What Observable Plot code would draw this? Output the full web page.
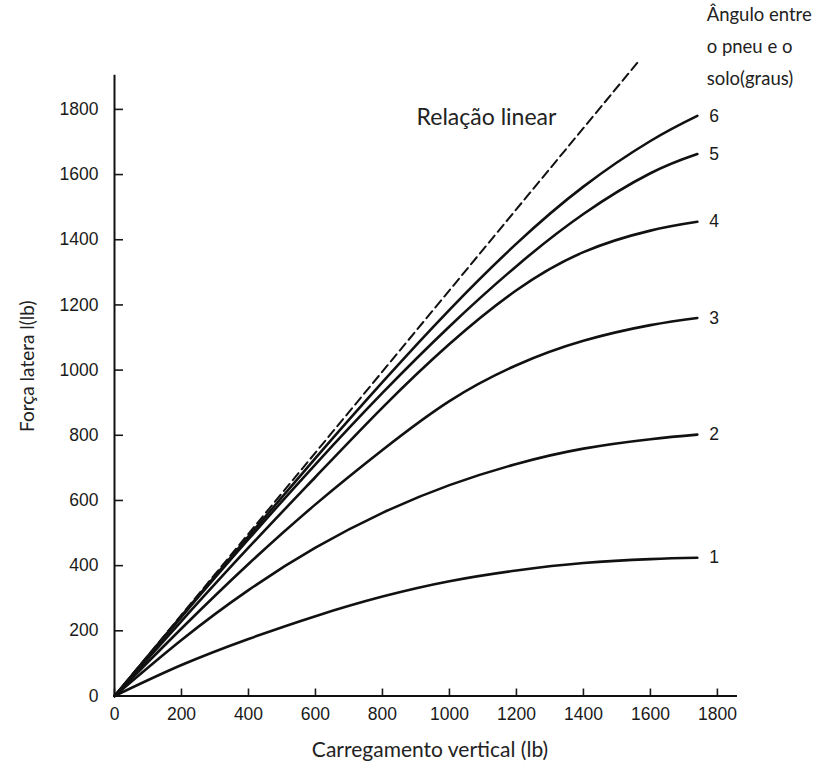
<!DOCTYPE html>
<html>
<head>
<meta charset="utf-8">
<script src="https://cdn.jsdelivr.net/npm/d3@7"></script>
<script src="https://cdn.jsdelivr.net/npm/@observablehq/plot@0.6"></script>
<style>
  body { margin: 0; background: #fff; }
  #chart svg { display: block; }
</style>
</head>
<body>
<div id="chart"></div>
<script>
// Vertical load (lb) sample points shared by all curves
const loads = [0, 200, 400, 600, 800, 1000, 1200, 1400, 1600, 1740];
// Lateral force (lb) for each slip angle (degrees)
const angle1 = [0, 95, 175, 245, 305, 352, 385, 408, 420, 424];
const angle2 = [0, 172, 325, 455, 562, 647, 712, 759, 788, 802];
const angle3 = [0, 207, 405, 588, 755, 905, 1015, 1090, 1138, 1160];
const angle4 = [0, 230, 455, 672, 885, 1080, 1245, 1362, 1428, 1455];
const angle5 = [0, 243, 481, 711, 930, 1134, 1319, 1479, 1604, 1663];
const angle6 = [0, 246, 490, 730, 963, 1185, 1388, 1563, 1703, 1780];
const angleLabels = ["1", "2", "3", "4", "5", "6"];
// Linear relation (dashed)
const linearLoads = [0, 1565];
const linearForces = [0, 1948];
// Tick labels
const xTicks = [0, 200, 400, 600, 800, 1000, 1200, 1400, 1600, 1800];
const yTicks = [0, 200, 400, 600, 800, 1000, 1200, 1400, 1600, 1800];
// Texts
const xTitle = "Carregamento vertical (lb)";
const yTitle = "Força latera l(lb)";
const linearLabel = "Relação linear";
const legendTitle = "Ângulo entre\no pneu e o\nsolo(graus)";

const series = [angle1, angle2, angle3, angle4, angle5, angle6];
const curves = series.flatMap((vals, i) =>
  vals.map((v, j) => ({angle: angleLabels[i], load: loads[j], force: v})));
const ends = series.map((vals, i) => ({angle: angleLabels[i], load: loads[loads.length - 1], force: vals[vals.length - 1]}));
const linear = linearLoads.map((l, i) => ({load: l, force: linearForces[i]}));

const calibriLike = "Lato, 'Open Sans', sans-serif";

const chart = Plot.plot({
  width: 821,
  height: 771,
  marginLeft: 114,
  marginRight: 84,
  marginTop: 60,
  marginBottom: 75.5,
  x: {domain: [0, 1860]},
  y: {domain: [0, 1950]},
  style: {fontFamily: "'Liberation Sans', Arial, sans-serif", fontSize: "17.5px", color: "#1a1a1a", background: "#fff", overflow: "visible"},
  marks: [
    Plot.axisX({ticks: xTicks, tickSize: 0, tickPadding: 12, label: null, tickFormat: d => String(d)}),
    Plot.axisX({ticks: xTicks, tickSize: -7, fill: "none", label: null, strokeWidth: 1.6}),
    Plot.axisY({ticks: yTicks, tickSize: 0, tickPadding: 16, label: null, tickFormat: d => String(d)}),
    Plot.axisY({ticks: yTicks, tickSize: -9, fill: "none", label: null, strokeWidth: 1.6}),
    Plot.ruleX([0], {y1: 0, y2: 1905, strokeWidth: 2, stroke: "#111"}),
    Plot.ruleY([0], {x1: 0, x2: 1860, strokeWidth: 2, stroke: "#111"}),
    Plot.line(linear, {x: "load", y: "force", stroke: "#111", strokeWidth: 2, strokeDasharray: "9,5"}),
    Plot.line(curves, {x: "load", y: "force", z: "angle", curve: "natural", stroke: "#111", strokeWidth: 2.6}),
    Plot.text(ends, {x: "load", y: "force", text: "angle", dx: 12, textAnchor: "start", fontSize: 17.5, fill: "#1a1a1a"}),
    Plot.text([linearLabel], {x: 902, y: 1775, text: d => d, textAnchor: "start", fontFamily: calibriLike, fontSize: 23, fill: "#222"}),
    Plot.text([legendTitle], {x: 1768, y: 2121, text: d => d, textAnchor: "start", lineAnchor: "top", lineHeight: 1.74, fontFamily: calibriLike, fontSize: 18.5, fill: "#222", dy: -7}),
    Plot.text([xTitle], {frameAnchor: "bottom", text: d => d, textAnchor: "middle", dx: 4, dy: 61, fontFamily: calibriLike, fontSize: 21, fill: "#222"}),
    Plot.text([yTitle], {frameAnchor: "left", text: d => d, textAnchor: "middle", rotate: -90, dx: -87, dy: -12, fontFamily: calibriLike, fontSize: 19, fill: "#222"})
  ]
});
document.getElementById("chart").appendChild(chart);
</script>
</body>
</html>
